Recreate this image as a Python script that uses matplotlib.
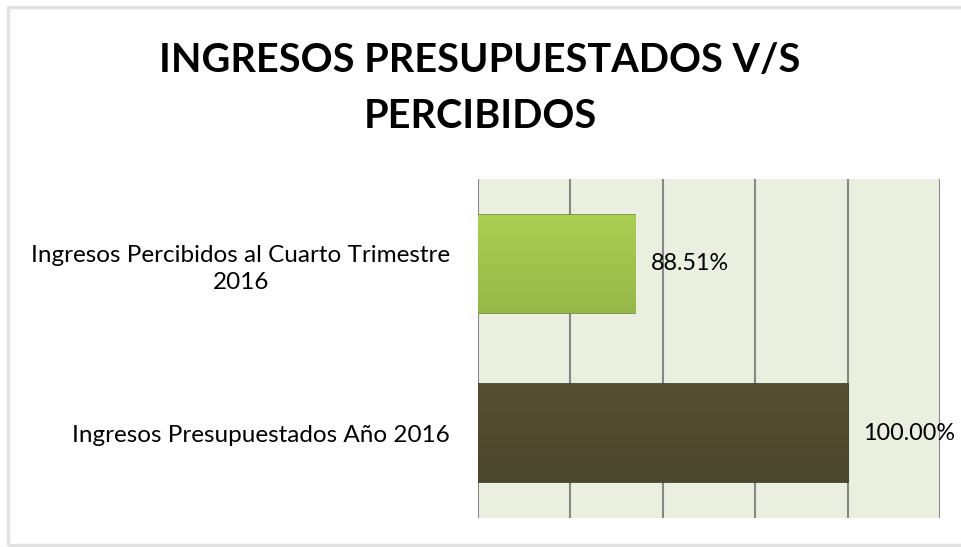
import numpy as np
import matplotlib
matplotlib.use("Agg")
import matplotlib.pyplot as plt
from matplotlib.patches import Rectangle

# data
categories = ["Ingresos Presupuestados Año 2016",
              "Ingresos Percibidos al Cuarto Trimestre\n2016"]
values = [100.00, 88.51]
bar_colors = ["#514c30", "#a2c54e"]
edge_colors = ["#3a3722", "#6f8d33"]

plt.rcParams['font.family'] = ['Lato', 'DejaVu Sans']

fig = plt.figure(figsize=(9.61, 5.47), dpi=100)
fig.patch.set_facecolor("white")

# outer light frame
fig.add_artist(Rectangle((8 / 961, 2 / 547), 1.2, 538 / 547,
                         transform=fig.transFigure, fill=False,
                         edgecolor="#e2e2e2", linewidth=2.5))

fig.text(0.4995, 0.838, "INGRESOS PRESUPUESTADOS V/S\nPERCIBIDOS",
         ha="center", va="center", multialignment="center",
         fontsize=28.5, fontweight="bold", linespacing=1.65)

ax = fig.add_axes([478 / 961, 29 / 547, 462 / 961, 339 / 547])
ax.set_facecolor("#ebefdf")

y = np.arange(len(categories))
bars = ax.barh(y, values, height=0.58, color=bar_colors,
               edgecolor=edge_colors, linewidth=1.2, zorder=3)

# light vertical shading on the bars to imitate the bevel
for b, c in zip(bars, bar_colors):
    x0, y0 = b.get_x(), b.get_y()
    w, h = b.get_width(), b.get_height()
    base = np.array(matplotlib.colors.to_rgb(c))
    t = np.linspace(0, 1, 64)[:, None]
    shade = np.clip(base * (0.93 + 0.12 * t), 0, 1)
    img = np.repeat(shade[:, None, :], 2, axis=1)
    im = ax.imshow(img, extent=[80, x0 + w, y0, y0 + h], origin="lower",
                   aspect="auto", zorder=3.5)
    im.set_clip_path(b)

for b, v in zip(bars, values):
    ax.annotate(f"{v:.2f}%", (v, b.get_y() + b.get_height() / 2),
                xytext=(11, 0), textcoords="offset points",
                va="center", ha="left", fontsize=16.8, zorder=5,
                annotation_clip=False)

ax.set_xlim(80, 105)
ax.set_ylim(-0.5, 1.5)
ax.set_xticks(np.arange(80, 106, 5))
ax.xaxis.grid(True, color="#878787", linewidth=1.5, zorder=1)
ax.tick_params(axis="x", length=0, labelbottom=False)
ax.tick_params(axis="y", length=0, pad=20)
ax.set_yticks(y)
ax.set_yticklabels(categories, fontsize=17.5)
for lab in ax.get_yticklabels():
    lab.set_multialignment("center")
    lab.set_linespacing(1.35)
for s in ax.spines.values():
    s.set_visible(False)

fig.savefig("out.png", dpi=100)
